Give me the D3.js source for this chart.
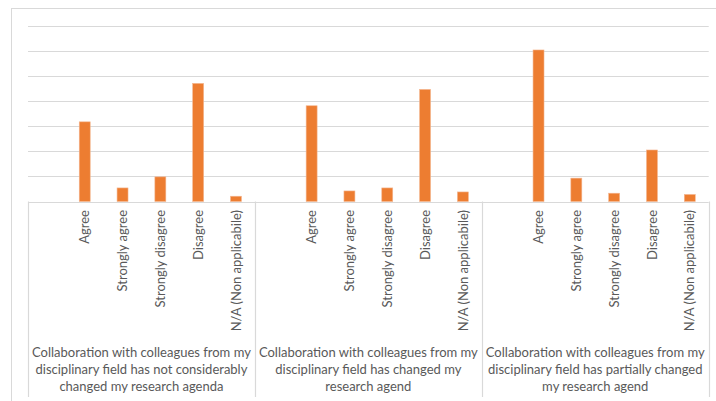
<!DOCTYPE html>
<html>
<head>
<meta charset="utf-8">
<script src="https://cdn.jsdelivr.net/npm/d3@7"></script>
<style>
  html, body { margin: 0; padding: 0; background: #fff; }
  svg { display: block; }
  text { font-family: Lato, "Open Sans", sans-serif; fill: #595959; }
</style>
</head>
<body>
<svg id="chart" width="716" height="401"></svg>
<script>
// Response categories inside each statement group (first slot is blank)
const responses = ["", "Agree", "Strongly agree", "Strongly disagree", "Disagree", "N/A (Non applicabile)"];

// Statement groups, one label (wrapped in lines) per group
const groupLines = [
  ["Collaboration with colleagues from my", "disciplinary field has not considerably", "changed my research agenda"],
  ["Collaboration with colleagues from my", "disciplinary field has changed my", "research agend"],
  ["Collaboration with colleagues from my", "disciplinary field has partially changed", "my research agend"]
];

// Share of answers per response, per group
const notConsiderably = [null, 31.7, 5.4, 9.8, 47.0, 2.1];
const changed         = [null, 38.1, 4.2, 5.4, 44.6, 3.8];
const partially       = [null, 60.3, 9.3, 3.3, 20.5, 2.8];
const seriesByGroup = [notConsiderably, changed, partially];

const yTicks = [0, 10, 20, 30, 40, 50, 60, 70];

const svg = d3.select("#chart");
const W = 716, H = 401;
const plot = { left: 28, right: 708.7, top: 25.6, bottom: 201.5 };

// Outer chart frame
svg.append("rect")
  .attr("x", 11.5).attr("y", 8.5)
  .attr("width", 730).attr("height", 420)
  .attr("fill", "none").attr("stroke", "#d9d9d9").attr("stroke-width", 1);

const x0 = d3.scaleBand()
  .domain(groupLines.map((d, i) => i))
  .range([plot.left, plot.right])
  .paddingInner(0).paddingOuter(0);

const x1 = d3.scaleBand()
  .domain(responses.map((d, i) => i))
  .range([0, x0.bandwidth()])
  .paddingInner(0.71).paddingOuter(0.355);

const y = d3.scaleLinear()
  .domain([0, 70])
  .range([plot.bottom, plot.top]);

// Horizontal gridlines
svg.append("g")
  .selectAll("line")
  .data(yTicks.slice(1))
  .join("line")
  .attr("x1", plot.left).attr("x2", plot.right)
  .attr("y1", d => Math.round(y(d)) + 0.5)
  .attr("y2", d => Math.round(y(d)) + 0.5)
  .attr("stroke", "#d9d9d9").attr("stroke-width", 1.2);

// Bars
const groupsG = svg.append("g")
  .selectAll("g")
  .data(seriesByGroup)
  .join("g")
  .attr("transform", (d, i) => `translate(${x0(i)},0)`);

groupsG.selectAll("rect")
  .data(d => d.map((v, i) => ({ v, i })).filter(e => e.v != null))
  .join("rect")
  .attr("x", d => x1(d.i))
  .attr("width", x1.bandwidth())
  .attr("y", d => y(d.v))
  .attr("height", d => y(0) - y(d.v))
  .attr("fill", "#ED7D31")
  .attr("stroke", "#f4b690").attr("stroke-width", 0.6);

// Category axis baseline
svg.append("line")
  .attr("x1", plot.left).attr("x2", plot.right)
  .attr("y1", Math.round(plot.bottom) + 0.5).attr("y2", Math.round(plot.bottom) + 0.5)
  .attr("stroke", "#d9d9d9").attr("stroke-width", 1.2);

// Group dividers of the multi-level axis
const dividers = [plot.left].concat(groupLines.map((d, i) => x0(i) + x0.bandwidth()));
svg.append("g")
  .selectAll("line")
  .data(dividers)
  .join("line")
  .attr("x1", d => Math.round(d) + 0.5).attr("x2", d => Math.round(d) + 0.5)
  .attr("y1", plot.bottom).attr("y2", 397)
  .attr("stroke", "#d9d9d9").attr("stroke-width", 1.2);

// Rotated response labels
groupsG.selectAll("text.resp")
  .data(responses.map((r, i) => ({ r, i })).filter(e => e.r !== ""))
  .join("text")
  .attr("class", "resp")
  .attr("transform", d => `translate(${x1(d.i) + x1.bandwidth() / 2},210) rotate(-90)`)
  .attr("text-anchor", "end")
  .attr("dy", "0.36em")
  .style("font-size", "13px")
  .text(d => d.r);

// Group labels
groupsG.each(function(d, gi) {
  const t = d3.select(this).append("text")
    .attr("text-anchor", "middle")
    .style("font-size", "13px");
  groupLines[gi].forEach((line, li) => {
    t.append("tspan")
      .attr("x", x0.bandwidth() / 2)
      .attr("y", 356.5 + li * 17.2)
      .text(line);
  });
});
</script>
</body>
</html>
